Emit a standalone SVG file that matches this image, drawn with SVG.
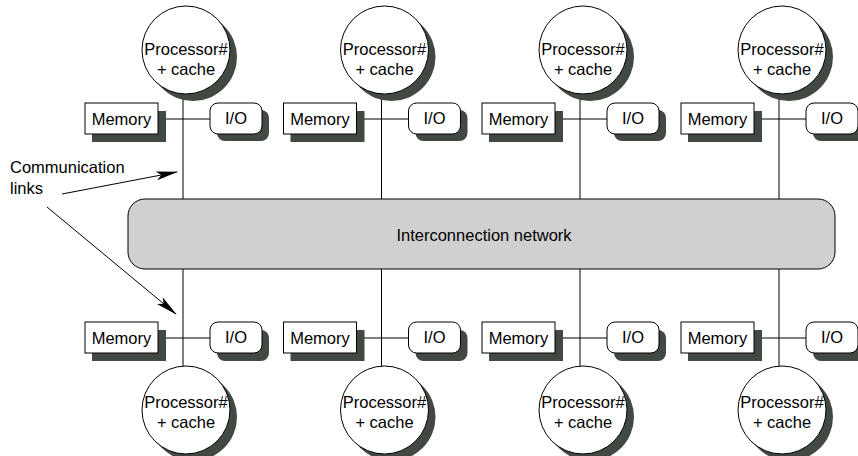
<svg xmlns="http://www.w3.org/2000/svg" width="858" height="456" viewBox="0 0 858 456">
<style>
text{font-family:"Liberation Sans",Arial,sans-serif;font-size:16.5px;fill:#000;text-anchor:middle}
.sh{fill:#424842;stroke:none}
.bx{fill:#fff;stroke:#000;stroke-width:1}
.ln{stroke:#000;stroke-width:1;fill:none}
</style>
<defs>
<marker id="ah" markerWidth="22" markerHeight="10" refX="21" refY="5" orient="auto" markerUnits="userSpaceOnUse">
<path d="M0,0.5 L22,5 L0,9.5 L5,5 Z" fill="#000"/>
</marker>
<g id="topunit">
<circle class="sh" cx="193" cy="57" r="44"/>
<circle class="bx" cx="186" cy="50" r="44"/>
<text x="186" y="55">Processor#</text>
<text x="186" y="75">+ cache</text>
<rect class="sh" x="92" y="111" width="74" height="31"/>
<rect class="bx" x="85" y="103" width="73" height="31"/>
<rect class="sh" x="217" y="110" width="52" height="31" rx="8"/>
<rect class="bx" x="210" y="103" width="52" height="31" rx="8"/>
<text x="121.5" y="125">Memory</text>
<text x="236" y="124">I/O</text>
</g>
<g id="botunit">
<rect class="sh" x="92" y="330" width="74" height="31"/>
<rect class="bx" x="85" y="322" width="73" height="31"/>
<rect class="sh" x="217" y="330" width="52" height="31" rx="8"/>
<rect class="bx" x="210" y="322" width="52" height="31" rx="8"/>
<text x="121.5" y="344">Memory</text>
<text x="236" y="343">I/O</text>
<circle class="sh" cx="193" cy="417" r="44"/>
<circle class="bx" cx="186" cy="410" r="44"/>
<text x="186" y="408">Processor#</text>
<text x="186" y="428">+ cache</text>
</g>
</defs>
<g id="connectors">
<path class="ln" d="M183,94 V199 M381.5,94 V199 M580,94 V199 M779,94 V199"/>
<path class="ln" d="M183,269 V367 M381.5,269 V367 M580,269 V367 M779,269 V367"/>
<path class="ln" d="M158,119 H210 M356.5,119 H408.5 M555,119 H607 M754,119 H806"/>
<path class="ln" d="M158,338 H210 M356.5,338 H408.5 M555,338 H607 M754,338 H806"/>
<path class="ln" d="M62,194 L177,172" marker-end="url(#ah)"/>
<path class="ln" d="M47,207 L176,314" marker-end="url(#ah)"/>
</g>
<g id="network">
<rect x="128" y="199" width="707" height="70" rx="17" fill="#d0d0d0" stroke="#000" stroke-width="1"/>
<text x="484" y="241">Interconnection network</text>
</g>
<g id="labels">
<text x="10" y="173" style="text-anchor:start">Communication</text>
<text x="10" y="194" style="text-anchor:start">links</text>
</g>
<g id="node-top-1"><use href="#topunit"/></g>
<g id="node-top-2"><use href="#topunit" x="198.5"/></g>
<g id="node-top-3"><use href="#topunit" x="397"/></g>
<g id="node-top-4"><use href="#topunit" x="596"/></g>
<g id="node-bot-1"><use href="#botunit"/></g>
<g id="node-bot-2"><use href="#botunit" x="198.5"/></g>
<g id="node-bot-3"><use href="#botunit" x="397"/></g>
<g id="node-bot-4"><use href="#botunit" x="596"/></g>
</svg>
